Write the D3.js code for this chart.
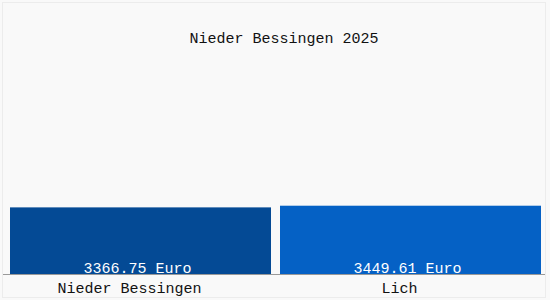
<!DOCTYPE html>
<html><head><meta charset="utf-8">
<script src="https://cdn.jsdelivr.net/npm/d3@7"></script>
<style>body{margin:0;background:#fff}svg{display:block}</style>
</head><body>
<svg id="c" width="550" height="300"></svg>
<script>
const title = "Nieder Bessingen 2025";
const categories = ["Nieder Bessingen", "Lich"];
const values = [3366.75, 3449.61];
const valueLabels = ["3366.75 Euro", "3449.61 Euro"];
const colors = ["#044a95", "#0561c5"];

const svg = d3.select("#c");
const font = "'Liberation Mono', 'DejaVu Sans Mono', monospace";
svg.append("rect").attr("x",0).attr("y",0).attr("width",550).attr("height",300).attr("fill","#f9f9f9");
svg.append("rect").attr("x",2.5).attr("y",2.5).attr("width",543).attr("height",295)
  .attr("fill","none").attr("stroke","#ececec");

const x = d3.scaleBand().domain(categories).range([10,541]).paddingInner(9/270).paddingOuter(0);
const y = d3.scaleLinear().domain([0,11700]).range([275,40]);

svg.append("text").attr("x",284).attr("y",43).attr("text-anchor","middle")
  .attr("font-family",font).attr("font-size",15).attr("fill","#111").text(title);

svg.selectAll("rect.bar").data(values).enter().append("rect").attr("class","bar")
  .attr("x",(d,i)=>x(categories[i])).attr("width",x.bandwidth())
  .attr("y",d=>y(d)).attr("height",d=>y(0)-y(d)).attr("fill",(d,i)=>colors[i]);

svg.selectAll("text.val").data(valueLabels).enter().append("text").attr("class","val")
  .attr("x",(d,i)=>x(categories[i])+x.bandwidth()/2-3).attr("y",273)
  .attr("text-anchor","middle").attr("font-family",font).attr("font-size",15)
  .attr("fill","#fff").text(d=>d);

const axis = d3.axisBottom(x).tickSize(0).tickPadding(0);
const g = svg.append("g").attr("transform","translate(0,274.5)").call(axis);
g.select(".domain").remove();
svg.append("line").attr("x1",3).attr("x2",545).attr("y1",274.5).attr("y2",274.5).attr("stroke","#999");
g.selectAll(".tick text").attr("font-family",font).attr("font-size",15).attr("fill","#111")
  .attr("dy",0).attr("y",18).attr("dx",-11);
</script>
</body></html>
